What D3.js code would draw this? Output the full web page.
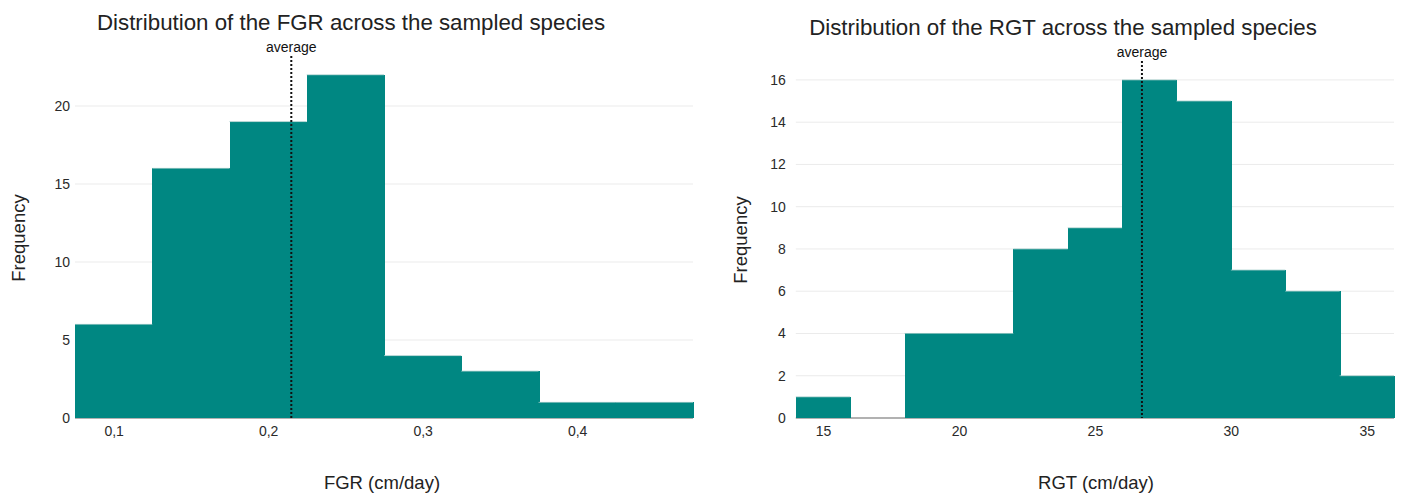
<!DOCTYPE html>
<html><head><meta charset="utf-8">
<script src="https://cdn.jsdelivr.net/npm/d3@7"></script>
<style>body{margin:0;background:#fff;} text{font-family:"Liberation Sans",Arial,sans-serif;}</style>
</head><body>
<svg id="c" width="1405" height="495"></svg>
<script>
// FGR histogram
const fgrBinStarts = [0.075,0.125,0.175,0.225,0.275,0.325,0.375,0.425];
const fgrBinWidth = 0.05;
const fgrCounts = [6,16,19,22,4,3,1,1];
const fgrMean = 0.215;
const fgrXTicks = [0.1,0.2,0.3,0.4];
const fgrYTicks = [0,5,10,15,20];
// RGT histogram
const rgtBinStarts = [14,16,18,20,22,24,26,28,30,32,34];
const rgtBinWidth = 2;
const rgtCounts = [1,0,4,4,8,9,16,15,7,6,2];
const rgtMean = 26.73;
const rgtXTicks = [15,20,25,30,35];
const rgtYTicks = [0,2,4,6,8,10,12,14,16];

const svg = d3.select("#c");
const fill = "#008782";

function panel(o){
  const g = svg.append("g");
  const x = d3.scaleLinear().domain(o.xDomain).range([o.left,o.right]);
  const y = d3.scaleLinear().domain(o.yDomain).range([o.bottom,o.top]);
  // grid
  g.selectAll(".grid").data(o.yTicks).enter().append("line")
    .attr("x1",o.left).attr("x2",o.right)
    .attr("y1",d=>y(d)).attr("y2",d=>y(d))
    .attr("stroke","#ebebeb").attr("stroke-width",1);
  // baseline
  g.append("line").attr("x1",o.left).attr("x2",o.right)
    .attr("y1",y(0)).attr("y2",y(0)).attr("stroke","#9a9a9a").attr("stroke-width",1.5);
  // bars
  const data = o.starts.map((s,i)=>({s, e:s+o.bw, c:o.counts[i]}));
  g.selectAll(".bar").data(data).enter().append("rect")
    .attr("x",d=>x(d.s)).attr("width",d=>x(d.e)-x(d.s)+1)
    .attr("y",d=>y(d.c)).attr("height",d=>y(0)-y(d.c))
    .attr("fill",fill).attr("shape-rendering","crispEdges");
  // light top edges
  g.selectAll(".edge").data(data.filter(d=>d.c>0)).enter().append("line")
    .attr("x1",d=>x(d.s)).attr("x2",d=>x(d.e))
    .attr("y1",d=>y(d.c)).attr("y2",d=>y(d.c))
    .attr("stroke","#9cc9c6").attr("stroke-width",0.8);
  // y tick labels
  const ya = d3.axisLeft(y).tickValues(o.yTicks).tickSize(0).tickPadding(o.yPad);
  const yg = g.append("g").attr("transform",`translate(${o.left},0)`).call(ya);
  yg.select(".domain").remove();
  yg.selectAll("text").attr("font-size",14).attr("fill","#2a2a2a").attr("font-family","Liberation Sans, Arial, sans-serif");
  // x tick labels
  const xa = d3.axisBottom(x).tickValues(o.xTicks).tickSize(0).tickPadding(8).tickFormat(o.fmt);
  const xg = g.append("g").attr("transform",`translate(0,${o.bottom})`).call(xa);
  xg.select(".domain").remove();
  xg.selectAll("text").attr("font-size",14).attr("fill","#2a2a2a").attr("font-family","Liberation Sans, Arial, sans-serif");
  // average line
  g.append("line").attr("x1",x(o.mean)).attr("x2",x(o.mean))
    .attr("y1",o.avgTop).attr("y2",y(0))
    .attr("stroke","#111").attr("stroke-width",2).attr("stroke-dasharray","2,2");
  g.append("text").attr("x",x(o.mean)).attr("y",o.avgTop-4).attr("text-anchor","middle")
    .attr("font-size",14).attr("fill","#111").text("average");
  // titles
  g.append("text").attr("x",o.titleX).attr("y",o.titleY).attr("text-anchor","middle")
    .attr("font-size",22.3).attr("fill","#222").text(o.title);
  g.append("text").attr("x",o.xTitleX).attr("y",489).attr("text-anchor","middle")
    .attr("font-size",18.5).attr("fill","#222").text(o.xTitle);
  g.append("text").attr("transform",`translate(${o.yTitleX},${o.yTitleY}) rotate(-90)`)
    .attr("text-anchor","middle").attr("font-size",18.5).attr("fill","#222").text("Frequency");
}

const commaFmt = d => d3.format(".1f")(d).replace(".",",");

panel({left:75,right:693,top:18,bottom:418,xDomain:[0.075,0.475],yDomain:[0,25.64],
  starts:fgrBinStarts,bw:fgrBinWidth,counts:fgrCounts,mean:fgrMean,
  xTicks:fgrXTicks,yTicks:fgrYTicks,fmt:commaFmt,yPad:5,avgTop:56,
  title:"Distribution of the FGR across the sampled species",titleX:351,titleY:30,
  xTitle:"FGR (cm/day)",xTitleX:382,yTitleX:25,yTitleY:238});

panel({left:795.8,right:1394,top:18,bottom:418,xDomain:[14,36],yDomain:[0,18.93],
  starts:rgtBinStarts,bw:rgtBinWidth,counts:rgtCounts,mean:rgtMean,
  xTicks:rgtXTicks,yTicks:rgtYTicks,fmt:d3.format("d"),yPad:10,avgTop:61,
  title:"Distribution of the RGT across the sampled species",titleX:1063,titleY:35,
  xTitle:"RGT (cm/day)",xTitleX:1096,yTitleX:747,yTitleY:240});
</script>
</body></html>
